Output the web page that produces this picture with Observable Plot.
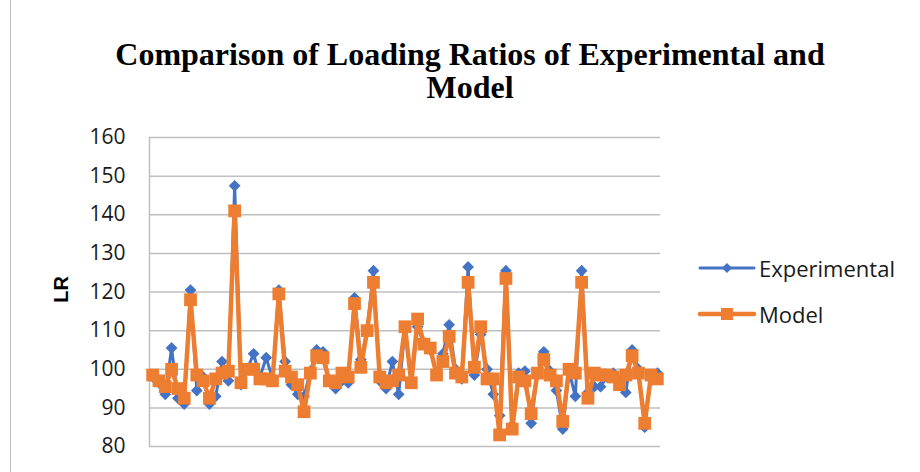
<!DOCTYPE html>
<html>
<head>
<meta charset="utf-8">
<script src="https://cdn.jsdelivr.net/npm/d3@7"></script>
<script src="https://cdn.jsdelivr.net/npm/@observablehq/plot@0.6"></script>
<style>
  html, body { margin: 0; padding: 0; background: #fff; }
  #wrap { position: relative; width: 920px; height: 472px; overflow: hidden; background: #fff; }
  #wrap > svg { position: absolute; left: 0; top: 0; }
  .title { position: absolute; left: 0; width: 940px; text-align: center;
           font-family: "Liberation Serif", "Times New Roman", serif; font-weight: bold;
           font-size: 32px; line-height: 32px; color: #000; white-space: nowrap; }
  .ylabel { position: absolute; font-family: "Liberation Sans", Arial, sans-serif; font-weight: bold;
            font-size: 20px; color: #000; transform: rotate(-90deg); transform-origin: center; }
  .border { position: absolute; left: 10px; top: 0; width: 0; height: 472px; border-left: 1.5px solid #bfbfbf; }
  .legend { position: absolute; left: 698px; top: 0; font-family: "Open Sans", sans-serif; font-size: 22px; color: #1a1a1a; }
  .legend .item { position: absolute; left: 0; display: flex; align-items: center; white-space: nowrap; }
  .legend .item svg { display: block; }
  .legend .item span { margin-left: 3px; }
</style>
</head>
<body>
<div id="wrap">
  <div class="border"></div>
  <div class="title" style="top:38px">Comparison of Loading Ratios of Experimental and</div>
  <div class="title" style="top:71px">Model</div>
  <div class="ylabel" style="left:48px; top:278px;">LR</div>
  <div class="legend" id="legend"></div>
</div>
<script>
const seriesNames = ["Experimental", "Model"];
const seriesColors = ["#4472C4", "#ED7D31"];
const yTicks = [80, 90, 100, 110, 120, 130, 140, 150, 160];

const experimental = [
  98, 96.5, 93.5, 105.5, 92.5, 91, 120.5, 94.5, 98, 91,
  93, 102, 97, 147.5, 96, 100, 104, 98, 103, 97.5,
  120.5, 102, 96, 93.5, 93, 99.5, 105, 104.5, 97, 95,
  97, 96.5, 118.5, 102.5, 110, 125.5, 97, 95, 102, 93.5,
  110.5, 97, 111, 106.5, 105, 99, 104, 111.5, 100, 97.5,
  126.5, 98.5, 109, 100, 93.5, 88, 125.5, 85.5, 99, 99.5,
  86, 99, 104.5, 99.5, 94.5, 84.5, 99.5, 93, 125.5, 94,
  95.5, 95.5, 98, 99, 97, 94, 105, 100, 85, 98.5,
  99
];
const model = [
  98.5, 97, 95.5, 100, 95, 92.5, 118, 98.5, 97, 92.5,
  97.5, 99, 99.5, 141, 96.5, 100, 100, 97.5, 97.5, 97,
  119.5, 99.5, 98, 96, 89, 99, 103.5, 103, 97, 96.5,
  99, 98, 117, 100.5, 110, 122.5, 98, 96.5, 97, 98.5,
  111, 96.5, 113, 106.5, 105.5, 98.5, 102, 108.5, 99, 98,
  122.5, 100.5, 111, 97.5, 97.5, 83, 123.5, 84.5, 98, 97,
  88.5, 99, 102.5, 98.5, 97, 86.5, 100, 99, 122.5, 92.5,
  99, 98.5, 98.5, 98, 96, 98.5, 103.5, 99, 86, 98.5,
  97.5
];

const expData = experimental.map((v, i) => ({i, v}));
const modData = model.map((v, i) => ({i, v}));
const n = experimental.length;

const chart = Plot.plot({
  width: 920,
  height: 472,
  marginLeft: 149,
  marginRight: 260,
  marginTop: 137,
  marginBottom: 26,
  style: {fontFamily: "Open Sans, sans-serif", fontSize: "21px", color: "#1a1a1a", background: "transparent", overflow: "visible"},
  x: {domain: [-0.5, n - 0.5], axis: null},
  y: {domain: [80, 160], axis: null},
  marks: [
    Plot.gridY(yTicks, {stroke: "#bfbfbf", strokeOpacity: 1, strokeWidth: 1.5}),
    Plot.ruleX([-0.5], {stroke: "#bfbfbf", strokeWidth: 1.5}),
    Plot.axisY(yTicks, {tickSize: 0, tickPadding: 24, label: null, fontSize: 21, fill: "#1a1a1a"}),
    Plot.line(expData, {x: "i", y: "v", stroke: seriesColors[0], strokeWidth: 3}),
    Plot.dot(expData, {x: "i", y: "v", symbol: "diamond2", r: 5.3, fill: seriesColors[0], stroke: "none"}),
    Plot.line(modData, {x: "i", y: "v", stroke: seriesColors[1], strokeWidth: 4.5}),
    Plot.dot(modData, {x: "i", y: "v", symbol: "square", r: 7.2, fill: seriesColors[1], stroke: "none"})
  ]
});
document.getElementById("wrap").insertBefore(chart, document.getElementById("wrap").firstChild);

// legend
const legend = document.getElementById("legend");
const tops = [253, 299];
const syms = [
  '<polygon points="29,-5 34,0 29,5 24,0" />',
  '<rect x="23" y="-6" width="12" height="12" />'
];
seriesNames.forEach((name, k) => {
  const item = document.createElement("div");
  item.className = "item";
  item.style.top = tops[k] + "px";
  item.innerHTML = `<svg width="58" height="30" viewBox="0 -15 58 30" style="overflow:visible">
      <line x1="2" y1="0" x2="56" y2="0" stroke="${seriesColors[k]}" stroke-width="${k ? 4.5 : 3}" stroke-linecap="round"/>
      <g fill="${seriesColors[k]}">${syms[k]}</g></svg><span>${name}</span>`;
  legend.appendChild(item);
});
</script>
</body>
</html>
